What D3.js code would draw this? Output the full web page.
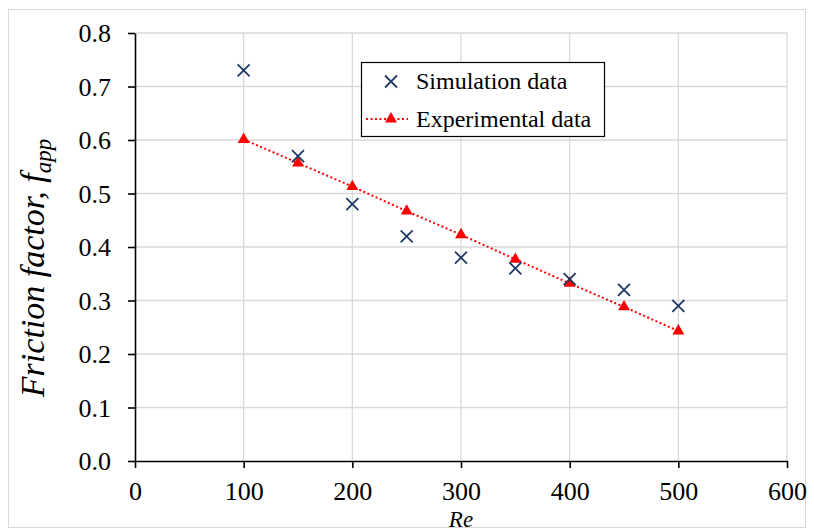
<!DOCTYPE html>
<html>
<head>
<meta charset="utf-8">
<script src="https://cdn.jsdelivr.net/npm/d3@7"></script>
<style>
  html, body { margin: 0; padding: 0; background: #fff; }
  svg { display: block; font-family: "Liberation Serif", "Times New Roman", serif; }
</style>
</head>
<body>
<svg id="chart" width="814" height="532"></svg>
<script>
// Reynolds numbers shared by both series
const reValues = [100, 150, 200, 250, 300, 350, 400, 450, 500];
// Apparent friction factor from the simulations
const simulationValues = [0.73, 0.57, 0.48, 0.42, 0.38, 0.36, 0.34, 0.32, 0.29];
// Apparent friction factor from the experiments
const experimentalValues = [0.601, 0.557, 0.513, 0.467, 0.423, 0.377, 0.332, 0.288, 0.243];
// Axis ticks
const xTicks = [0, 100, 200, 300, 400, 500, 600];
const yTicks = [0, 0.1, 0.2, 0.3, 0.4, 0.5, 0.6, 0.7, 0.8];
const legendLabels = ["Simulation data", "Experimental data"];

const svg = d3.select("#chart");
const plot = { left: 135, right: 787, top: 33, bottom: 461 };

const x = d3.scaleLinear().domain([0, 600]).range([plot.left, plot.right]);
const y = d3.scaleLinear().domain([0, 0.8]).range([plot.bottom, plot.top]);

// Chart area frame
svg.append("rect")
  .attr("x", 8.5).attr("y", 9.5)
  .attr("width", 797).attr("height", 518)
  .attr("fill", "#fff").attr("stroke", "#d9d9d9").attr("stroke-width", 1);

// Gridlines
const grid = svg.append("g").attr("stroke", "#d9d9d9").attr("stroke-width", 1.3);
grid.selectAll("line.h").data(yTicks.filter(d => d > 0)).join("line")
  .attr("x1", plot.left).attr("x2", plot.right)
  .attr("y1", d => y(d)).attr("y2", d => y(d));
grid.selectAll("line.v").data(xTicks.filter(d => d > 0)).join("line")
  .attr("x1", d => x(d)).attr("x2", d => x(d))
  .attr("y1", plot.top).attr("y2", plot.bottom);

// Axes
const xAxis = d3.axisBottom(x).tickValues(xTicks).tickFormat(d3.format("d"))
  .tickSizeInner(7).tickSizeOuter(0).tickPadding(8);
const yAxis = d3.axisLeft(y).tickValues(yTicks).tickFormat(d3.format(".1f"))
  .tickSizeInner(7).tickSizeOuter(0).tickPadding(17);

const gx = svg.append("g").attr("transform", `translate(0,${plot.bottom})`).call(xAxis);
const gy = svg.append("g").attr("transform", `translate(${plot.left},0)`).call(yAxis);
[gx, gy].forEach(g => {
  g.select(".domain").attr("stroke", "#000").attr("stroke-width", 1.6);
  g.selectAll(".tick line").attr("stroke", "#000").attr("stroke-width", 1.6);
  g.selectAll(".tick text")
    .attr("fill", "#000")
    .style("font-family", '"Liberation Serif", serif')
    .style("font-size", "26px");
});
gx.selectAll(".tick text").attr("dy", "0.92em");
gy.selectAll(".tick text").attr("dy", "0.34em");

// Axis titles
svg.append("text")
  .attr("x", x(300)).attr("y", 527)
  .attr("text-anchor", "middle")
  .style("font-style", "italic").style("font-size", "23px")
  .text("Re");

const yTitle = svg.append("text")
  .attr("transform", `translate(44,${(plot.top + plot.bottom) / 2 + 21}) rotate(-90)`)
  .attr("text-anchor", "middle")
  .style("font-style", "italic").style("font-size", "34px");
yTitle.append("tspan").text("Friction factor, f");
yTitle.append("tspan").attr("dy", 7).style("font-size", "23px").text("app");

// Experimental series: dotted line with triangle markers
const expData = reValues.map((r, i) => ({ re: r, f: experimentalValues[i] }));
const simData = reValues.map((r, i) => ({ re: r, f: simulationValues[i] }));

svg.append("path")
  .datum(expData)
  .attr("fill", "none")
  .attr("stroke", "#ff0000")
  .attr("stroke-width", 2)
  .attr("stroke-dasharray", "2,2.5")
  .attr("d", d3.line().x(d => x(d.re)).y(d => y(d.f)));

const tri = d3.symbol().type(d3.symbolTriangle).size(62);
svg.append("g").selectAll("path").data(expData).join("path")
  .attr("transform", d => `translate(${x(d.re)},${y(d.f)})`)
  .attr("d", tri)
  .attr("fill", "#ff0000");

// Simulation series: cross markers
const crossPath = "M-6,-6L6,6M-6,6L6,-6";
svg.append("g").selectAll("path").data(simData).join("path")
  .attr("transform", d => `translate(${x(d.re)},${y(d.f)})`)
  .attr("d", crossPath)
  .attr("stroke", "#1f3864")
  .attr("stroke-width", 1.8)
  .attr("fill", "none");

// Legend
const lg = svg.append("g");
lg.append("rect")
  .attr("x", 361.5).attr("y", 62.5).attr("width", 243).attr("height", 74)
  .attr("fill", "#fff").attr("stroke", "#000").attr("stroke-width", 1.2);
lg.append("path")
  .attr("transform", "translate(391,81.5)")
  .attr("d", crossPath)
  .attr("stroke", "#1f3864").attr("stroke-width", 1.8).attr("fill", "none");
lg.append("line")
  .attr("x1", 366).attr("x2", 408).attr("y1", 119).attr("y2", 119)
  .attr("stroke", "#ff0000").attr("stroke-width", 2).attr("stroke-dasharray", "2,2.5");
lg.append("path")
  .attr("transform", "translate(391,119)")
  .attr("d", tri).attr("fill", "#ff0000");
lg.selectAll("text").data(legendLabels).join("text")
  .attr("x", 416).attr("y", (d, i) => 89 + i * 37.5)
  .style("font-size", "24px")
  .attr("fill", "#000")
  .text(d => d);
</script>
</body>
</html>
